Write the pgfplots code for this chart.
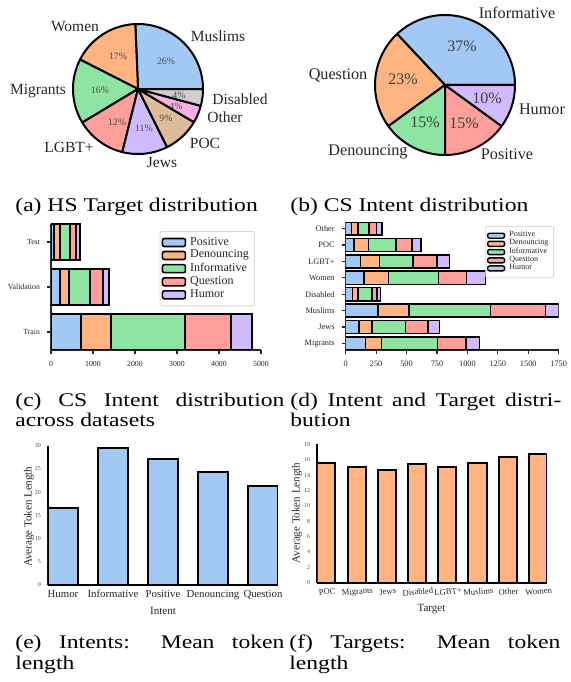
\documentclass[border=0pt]{standalone}
\usepackage{graphicx}
\usepackage{fontspec}
\setmainfont{Liberation Serif}
\usepackage{pgfplots}
\pgfplotsset{compat=1.18}
\definecolor{pblue}{HTML}{A1C9F4}
\definecolor{porange}{HTML}{FFB482}
\definecolor{pgreen}{HTML}{8DE5A1}
\definecolor{pred}{HTML}{FF9F9B}
\definecolor{ppurple}{HTML}{D0BBFF}
\definecolor{pbrown}{HTML}{DEBB9B}
\definecolor{ppink}{HTML}{FAB0E4}
\definecolor{pgray}{HTML}{CFCFCF}
\definecolor{txt}{HTML}{262626}
\newcommand{\fs}[1]{\fontsize{#1}{#1}\selectfont}
\newcommand{\capt}[1]{\scalebox{1}[0.82]{#1}}
\newcommand{\lgt}[1]{\vphantom{Qg}#1}
\pgfplotsset{
 /pgf/number format/assume math mode=true,
 pieax/.style={hide axis, scale only axis, xmin=-1, xmax=1, ymin=-1, ymax=1, clip=false, anchor=south west},
 slice/.style={draw=black, line width=1pt, line join=round, samples=60, variable=\t},
}
\begin{document}
\begin{tikzpicture}[x=0.5pt,y=0.5pt]
\useasboundingbox (0,0) rectangle (571,682);

% ---------- (a) pie: HS targets (counts) ----------
\begin{axis}[pieax, at={(36.5pt,264pt)}, width=65pt, height=65pt]
\addplot[slice, fill=pblue,   domain=0:92.38]      ({cos(t)},{sin(t)}) -- (0,0) -- cycle;
\addplot[slice, fill=porange, domain=92.38:153.08] ({cos(t)},{sin(t)}) -- (0,0) -- cycle;
\addplot[slice, fill=pgreen,  domain=153.08:211.04]({cos(t)},{sin(t)}) -- (0,0) -- cycle;
\addplot[slice, fill=pred,    domain=211.04:256.01]({cos(t)},{sin(t)}) -- (0,0) -- cycle;
\addplot[slice, fill=ppurple, domain=256.01:296.66]({cos(t)},{sin(t)}) -- (0,0) -- cycle;
\addplot[slice, fill=pbrown,  domain=296.66:329.33]({cos(t)},{sin(t)}) -- (0,0) -- cycle;
\addplot[slice, fill=ppink,   domain=329.33:344.96]({cos(t)},{sin(t)}) -- (0,0) -- cycle;
\addplot[slice, fill=pgray,   domain=344.96:360]   ({cos(t)},{sin(t)}) -- (0,0) -- cycle;
\end{axis}
\begin{scope}[every node/.style={font=\fs{7.75}, text=txt, inner sep=0pt}]
\node at (218,646) {Muslims};
\node at (75,655) {Women};
\node at (38,591) {Migrants};
\node at (69,535) {LGBT+};
\node at (162,519) {Jews};
\node at (205,539) {POC};
\node at (225,565) {Other};
\node at (240,583) {Disabled};
\end{scope}
\begin{scope}[every node/.style={font=\fs{4.9}, text=black!70, inner sep=0pt}]
\node at (166,621) {26\%};
\node at (118,626) {17\%};
\node at (100,592) {16\%};
\node at (117,560) {12\%};
\node at (144,554) {11\%};
\node at (166,564) {9\%};
\node at (176,576) {4\%};
\node at (179,587) {4\%};
\end{scope}

% ---------- (b) pie: CS intents ----------
\begin{axis}[pieax, at={(187.5pt,263.5pt)}, width=70pt, height=70pt]
\addplot[slice, fill=pblue,   domain=0:133.2]   ({cos(t)},{sin(t)}) -- (0,0) -- cycle;
\addplot[slice, fill=porange, domain=133.2:216] ({cos(t)},{sin(t)}) -- (0,0) -- cycle;
\addplot[slice, fill=pgreen,  domain=216:270]   ({cos(t)},{sin(t)}) -- (0,0) -- cycle;
\addplot[slice, fill=pred,    domain=270:324]   ({cos(t)},{sin(t)}) -- (0,0) -- cycle;
\addplot[slice, fill=ppurple, domain=324:360]   ({cos(t)},{sin(t)}) -- (0,0) -- cycle;
\end{axis}
\begin{scope}[every node/.style={font=\fs{8.1}, text=txt, inner sep=0pt}]
\node at (517,669) {Informative};
\node at (338,607) {Question};
\node at (542,573) {Humor};
\node at (507,528) {Positive};
\node at (368,530) {Denouncing};
\end{scope}
\begin{scope}[every node/.style={font=\fs{8}, text=black!75, inner sep=0pt}]
\node at (462,636) {37\%};
\node at (403,603) {23\%};
\node at (425,560) {15\%};
\node at (464,559) {15\%};
\node at (487,584) {10\%};
\end{scope}

% ---------- (c) stacked bars per split ----------
\begin{axis}[at={(25.5pt,166pt)}, anchor=south west, scale only axis,
 width=105pt, height=63pt,
 xbar stacked, bar width=0.8,
 xmin=0, xmax=5000, ymin=-0.4, ymax=2.4,
 ytick={0,1,2}, yticklabels={Train,Validation,Test},
 xtick={0,1000,...,5000}, scaled x ticks=false,
 x tick label style={/pgf/number format/1000 sep={}},
 axis x line*=bottom, axis y line*=left,
 tick align=outside, major tick length=2pt,
 tick style={black!85, line width=0.6pt},
 axis line style={black!85, line width=0.6pt},
 ticklabel style={font=\fs{3.9}, text=txt},
 legend cell align=left,
 legend image code/.code={\draw[#1, line width=0.8pt] (0pt,-2pt) rectangle (11.5pt,2pt);},
 legend style={at={(0.971,0.944)}, anchor=north east, font=\fs{6}, text=txt,
   draw=black!15, rounded corners=1pt, inner sep=0.8pt, row sep=-3pt},
]
\addplot[fill=pblue,   draw=black, line width=1pt] coordinates {(714,0) (206,1) (79,2)};
\addplot[fill=porange, draw=black, line width=1pt] coordinates {(723,0) (215,1) (127,2)};
\addplot[fill=pgreen,  draw=black, line width=1pt] coordinates {(1761,0) (500,1) (238,2)};
\addplot[fill=pred,    draw=black, line width=1pt] coordinates {(1088,0) (309,1) (159,2)};
\addplot[fill=ppurple, draw=black, line width=1pt] coordinates {(500,0) (143,1) (80,2)};
\legend{\lgt{Positive},\lgt{Denouncing},\lgt{Informative},\lgt{Question},\lgt{Humor}}
\end{axis}

% ---------- (d) stacked bars per target ----------
\begin{axis}[at={(172.85pt,166pt)}, anchor=south west, scale only axis,
 width=106.5pt, height=64pt,
 xbar stacked, bar width=0.8,
 xmin=0, xmax=1750, ymin=-0.4, ymax=7.4,
 ytick={0,...,7}, yticklabels={Migrants,Jews,Muslims,Disabled,Women,LGBT+,POC,Other},
 xtick={0,250,...,1750}, scaled x ticks=false,
 x tick label style={/pgf/number format/1000 sep={}},
 axis x line*=bottom, axis y line*=left,
 tick align=outside, major tick length=2pt,
 tick style={black!85, line width=0.6pt},
 axis line style={black!85, line width=0.6pt},
 ticklabel style={font=\fs{4.15}, text=txt},
 legend cell align=left,
 legend image code/.code={\draw[#1, line width=0.7pt] (0pt,-1.25pt) rectangle (8.5pt,1.25pt);},
 legend style={at={(0.978,0.969)}, anchor=north east, font=\fs{4}, text=txt,
   draw=black!15, rounded corners=1pt, inner sep=0.6pt, row sep=-4.1pt},
]
\addplot[fill=pblue,   draw=black, line width=0.8pt] coordinates {(162,0) (110,1) (263,2) (55,3) (151,4) (123,5) (66,6) (49,7)};
\addplot[fill=porange, draw=black, line width=0.8pt] coordinates {(131,0) (106,1) (255,2) (46,3) (200,4) (154,5) (120,6) (52,7)};
\addplot[fill=pgreen,  draw=black, line width=0.8pt] coordinates {(460,0) (274,1) (671,2) (113,3) (413,4) (276,5) (225,6) (88,7)};
\addplot[fill=pred,    draw=black, line width=0.8pt] coordinates {(236,0) (184,1) (454,2) (41,3) (227,4) (195,5) (134,6) (63,7)};
\addplot[fill=ppurple, draw=black, line width=0.8pt] coordinates {(109,0) (96,1) (107,2) (30,3) (159,4) (104,5) (74,6) (44,7)};
\legend{\lgt{Positive},\lgt{Denouncing},\lgt{Informative},\lgt{Question},\lgt{Humor}}
\end{axis}

% ---------- (e) mean token length per intent ----------
\begin{axis}[at={(24pt,48.5pt)}, anchor=south west, scale only axis,
 width=115pt, height=69.65pt,
 ybar, bar width=0.6,
 xmin=-0.3, xmax=4.3, ymin=0, ymax=30,
 xtick={0,...,4}, xticklabels={Humor,Informative,Positive,Denouncing,Question},
 ytick={0,5,...,30},
 axis x line*=bottom, axis y line*=left, major tick length=0pt,
 axis line style={black, line width=0.8pt},
 x tick label style={font=\fs{5.4}, text=txt, yshift=1pt},
 y tick label style={font=\fs{3}, text=black!70},
 xlabel={Intent}, ylabel={Average Token Length},
 label style={font=\fs{5.5}, text=txt},
 xlabel style={at={(axis description cs:0.5,-0.185)}, anchor=center},
 ylabel style={at={(axis description cs:-0.083,0.49)}, anchor=center},
]
\addplot[fill=pblue, draw=black, line width=1pt] coordinates {(0,16.6) (1,29.6) (2,27.2) (3,24.4) (4,21.4)};
\end{axis}

% ---------- (f) mean token length per target ----------
\begin{axis}[at={(158.65pt,49.65pt)}, anchor=south west, scale only axis,
 width=114.85pt, height=69.2pt,
 ybar, bar width=0.6,
 xmin=-0.3, xmax=7.3, ymin=0, ymax=18,
 xtick={0,...,7}, xticklabels={POC,Migrants,Jews,Disabled,LGBT+,Muslims,Other,Women},
 ytick={0,2,...,18},
 axis x line*=bottom, axis y line*=left, major tick length=0pt,
 axis line style={black, line width=0.8pt},
 x tick label style={font=\fs{4.3}, text=txt, rotate=5, anchor=north, yshift=0.5pt},
 y tick label style={font=\fs{3}, text=black!70},
 xlabel={Target}, ylabel={Average Token Length},
 label style={font=\fs{5.5}, text=txt},
 xlabel style={at={(axis description cs:0.497,-0.19)}, anchor=center},
 ylabel style={at={(axis description cs:-0.088,0.504)}, anchor=center},
]
\addplot[fill=porange, draw=black, line width=1pt] coordinates {(0,15.6) (1,15.1) (2,14.7) (3,15.5) (4,15.0) (5,15.6) (6,16.3) (7,16.8)};
\end{axis}

% ---------- captions ----------
\begin{scope}[every node/.style={font=\fs{11.8}, inner sep=0pt, anchor=base west}]
\node at (15,471) {\capt{(a) HS Target distribution}};
\node at (290,471) {\capt{(b) CS Intent distribution}};
\node at (15,276) {\capt{\makebox[134.5pt][s]{(c) CS Intent distribution}}};
\node at (15,256) {\capt{across datasets}};
\node at (290,276) {\capt{\makebox[135.5pt][s]{(d) Intent and Target distri-}}};
\node at (290,256) {\capt{bution}};
\node at (15,34) {\capt{\makebox[134.5pt][s]{(e) Intents: Mean token}}};
\node at (15,13) {\capt{length}};
\node at (289,34) {\capt{\makebox[135.5pt][s]{(f) Targets: Mean token}}};
\node at (289,13) {\capt{length}};
\end{scope}
\end{tikzpicture}
\end{document}
